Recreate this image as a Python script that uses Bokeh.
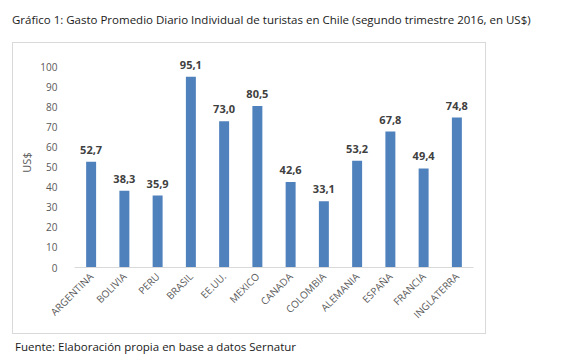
import math
from bokeh.plotting import figure
from bokeh.models import ColumnDataSource, FixedTicker, Range1d, Div
from bokeh.layouts import column
from bokeh.embed import file_html
from bokeh.resources import INLINE
from bokeh.core.properties import value

# ---- data ----
paises = ["ARGENTINA", "BOLIVIA", "PERU", "BRASIL", "EE.UU.", "MEXICO",
          "CANADA", "COLOMBIA", "ALEMANIA", "ESPAÑA", "FRANCIA", "INGLATERRA"]
gasto = [52.7, 38.3, 35.9, 95.1, 73.0, 80.5, 42.6, 33.1, 53.2, 67.8, 49.4, 74.8]
y_ticks = [0, 10, 20, 30, 40, 50, 60, 70, 80, 90, 100]
titulo = "Gráfico 1: Gasto Promedio Diario Individual de turistas en Chile (segundo trimestre 2016, en US$)"
fuente = "Fuente: Elaboración propia en base a datos Sernatur"
eje_y = "US$"

etiquetas = [f"{v:.1f}".replace(".", ",") for v in gasto]
src = ColumnDataSource(dict(pais=paises, gasto=gasto, etiqueta=etiquetas))

FONT = "Open Sans"
W, H = 474, 292
ML, MR, MT, MB = 61, 14, 14, 68
frame_h = H - MT - MB

p = figure(width=W, height=H, x_range=paises, y_range=Range1d(0, frame_h / 2.005),
           output_backend="svg", toolbar_location=None,
           min_border_left=ML, min_border_right=MR, min_border_top=MT, min_border_bottom=MB,
           margin=(0, 0, 0, 12), styles={"border": "1px solid #D9D9D9"})
p.outline_line_color = None
p.xgrid.grid_line_color = None
p.ygrid.grid_line_color = None
p.background_fill_color = "white"
p.border_fill_color = "white"

p.vbar(x="pais", top="gasto", width=0.3, source=src, fill_color="#4F81BD", line_color=None)
p.text(x="pais", y="gasto", text="etiqueta", source=src, text_align="center",
       text_baseline="middle", y_offset=-12, text_font=value(FONT), text_font_size="11px",
       text_font_style="bold", text_color="#404040")

# y axis
p.yaxis.ticker = FixedTicker(ticks=y_ticks)
p.yaxis.axis_line_color = None
p.yaxis.major_tick_line_color = None
p.yaxis.minor_tick_line_color = None
p.yaxis.major_label_text_font = FONT
p.yaxis.major_label_text_font_size = "10px"
p.yaxis.major_label_text_color = "#595959"
p.yaxis.major_label_standoff = 11
p.yaxis.axis_label = eje_y
p.yaxis.axis_label_text_font = FONT
p.yaxis.axis_label_text_font_size = "11px"
p.yaxis.axis_label_text_font_style = "normal"
p.yaxis.axis_label_text_color = "#595959"
p.yaxis.axis_label_standoff = 3

# x axis
p.xaxis.axis_line_color = "#D9D9D9"
p.xaxis.major_tick_line_color = None
p.xaxis.minor_tick_line_color = None
p.xaxis.major_label_orientation = math.pi / 4
p.xaxis.major_label_text_font = FONT
p.xaxis.major_label_text_font_size = "10px"
p.xaxis.major_label_text_color = "#595959"
p.xaxis.major_label_standoff = 1

text_style = {"font-family": "Open Sans", "font-size": "11.5px", "color": "#1a1a1a",
              "white-space": "nowrap", "line-height": "15px"}
title_div = Div(text=titulo, width=560, height=30, margin=(12, 0, 0, 12), styles=text_style)
source_div = Div(text=fuente, width=400, height=16, margin=(5, 0, 0, 15), styles=text_style)

layout = column(title_div, p, source_div, spacing=0)

open("out.html", "w").write(file_html(layout, INLINE))
